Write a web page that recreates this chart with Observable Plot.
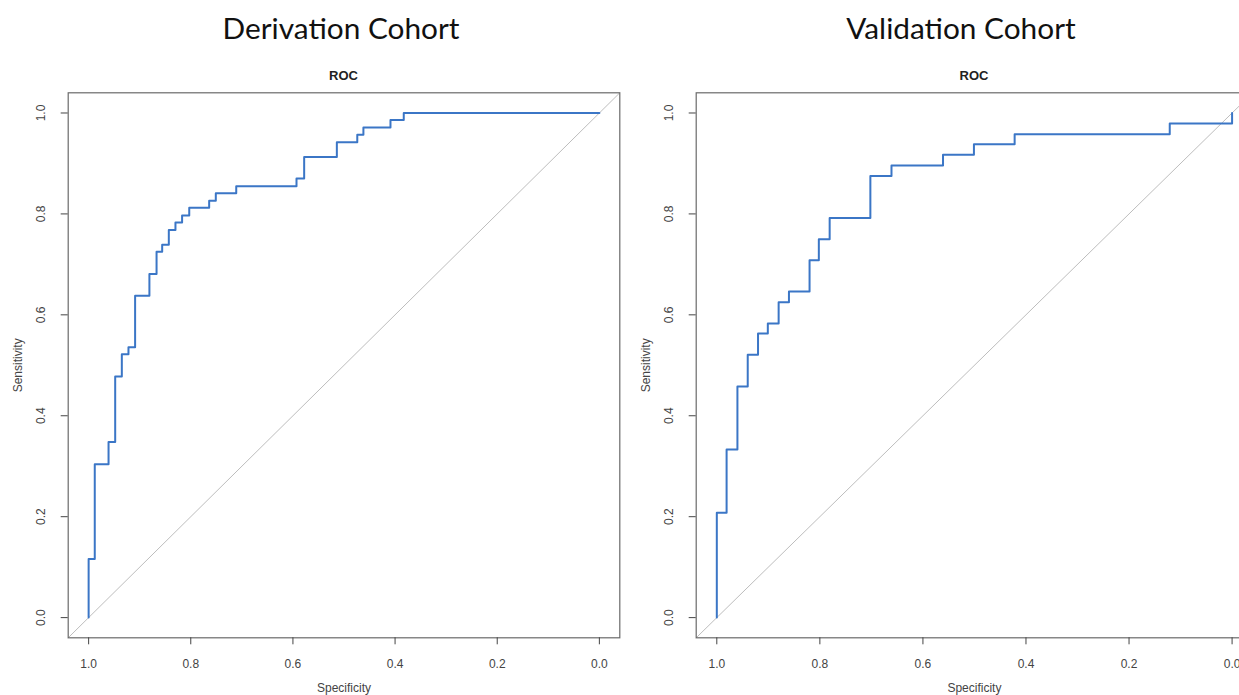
<!DOCTYPE html>
<html>
<head>
<meta charset="utf-8">
<script src="https://cdn.jsdelivr.net/npm/d3@7"></script>
<script src="https://cdn.jsdelivr.net/npm/@observablehq/plot@0.6"></script>
<style>
  html, body { margin: 0; padding: 0; background: #fff; overflow: hidden; }
  #stage { position: relative; width: 1239px; height: 695px; overflow: hidden; background: #fff; }
  .cohort { position: absolute; top: 8px; font-family: Lato, "Open Sans", sans-serif; font-size: 29.8px; color: #111; text-align: center; width: 500px; line-height: 40px; }
  .roc { position: absolute; top: 67px; font-family: "Liberation Sans", Arial, sans-serif; font-weight: bold; font-size: 13px; color: #222; text-align: center; width: 200px; line-height: 18px; z-index: 2; }
  .panel { position: absolute; top: 60px; }
</style>
</head>
<body>
<div id="stage"></div>
<script>
// ---- data ----
const cohortTitles = ["Derivation Cohort", "Validation Cohort"];
const panelTitle = "ROC";
const xLabel = "Specificity";
const yLabel = "Sensitivity";
const tickValues = [1.0, 0.8, 0.6, 0.4, 0.2, 0.0];

// Derivation cohort ROC corner points (specificity, sensitivity)
const derivSpec = [1.0, 0.988, 0.961, 0.948, 0.935, 0.922, 0.909, 0.881, 0.867, 0.856, 0.843, 0.830, 0.817, 0.803, 0.764, 0.751, 0.711, 0.593, 0.578, 0.514, 0.474, 0.462, 0.409, 0.383, 0.0];
const derivSens = [0.0, 0.116, 0.304, 0.348, 0.478, 0.522, 0.536, 0.638, 0.681, 0.725, 0.739, 0.768, 0.783, 0.797, 0.812, 0.826, 0.841, 0.855, 0.870, 0.913, 0.942, 0.957, 0.971, 0.986, 1.0];

// Validation cohort ROC corner points (specificity, sensitivity)
const validSpec = [1.0, 0.981, 0.960, 0.940, 0.920, 0.901, 0.880, 0.860, 0.820, 0.802, 0.781, 0.702, 0.661, 0.561, 0.501, 0.422, 0.121, 0.0, 0.0];
const validSens = [0.0, 0.208, 0.333, 0.458, 0.521, 0.563, 0.583, 0.625, 0.646, 0.708, 0.750, 0.792, 0.875, 0.896, 0.917, 0.938, 0.958, 0.979, 1.0];

const xDomain = [1.04, -0.04];
const yDomain = [-0.04, 1.04];

const stage = document.getElementById("stage");

function makePanel(spec, sens, cfg) {
  const curve = spec.map((s, i) => ({spec: s, sens: sens[i]}));
  const diag = xDomain.map(s => ({spec: s, sens: 1 - s}));
  const chart = Plot.plot({
    width: cfg.width,
    height: 635,
    marginLeft: cfg.marginLeft,
    marginRight: cfg.marginRight,
    marginTop: 32.3,
    marginBottom: 57.7,
    style: {fontFamily: "'Liberation Sans', Arial, sans-serif", fontSize: "12px", color: "#333", background: "transparent", overflow: "visible"},
    x: {domain: xDomain},
    y: {domain: yDomain},
    marks: [
      Plot.line(diag, {x: "spec", y: "sens", stroke: "#bdbdbd", strokeWidth: 1}),
      Plot.line(curve, {x: "spec", y: "sens", curve: "step-before", stroke: "#3b76c6", strokeWidth: 2}),
      Plot.frame({stroke: "#6a6a6a", strokeWidth: 1.2}),
      Plot.axisX({ticks: tickValues, tickFormat: ".1f", tickSize: 7, tickPadding: 15, stroke: "#444", fill: "#444",
        label: xLabel, labelAnchor: "center", labelOffset: 54, labelArrow: "none"}),
      Plot.axisY({ticks: tickValues, tickFormat: ".1f", tickSize: 7, tickPadding: 16, tickRotate: -90, stroke: "#444", fill: "#444",
        label: yLabel, labelAnchor: "center", labelOffset: 55, labelArrow: "none"})
    ]
  });
  chart.classList.add("panel");
  chart.style.left = cfg.left + "px";
  chart.style.position = "absolute";
  chart.style.top = "60px";
  stage.appendChild(chart);

  const t = document.createElement("div");
  t.className = "cohort";
  t.textContent = cfg.title;
  t.style.left = (cfg.titleCenter - 250) + "px";
  stage.appendChild(t);

  const r = document.createElement("div");
  r.className = "roc";
  r.textContent = panelTitle;
  r.style.left = (cfg.rocCenter - 100) + "px";
  stage.appendChild(r);
}

makePanel(derivSpec, derivSens, {left: 0, width: 620, marginLeft: 67.7, marginRight: 0.7, title: cohortTitles[0], titleCenter: 341, rocCenter: 343.5});
makePanel(validSpec, validSens, {left: 620, width: 633, marginLeft: 75.7, marginRight: 0.8, title: cohortTitles[1], titleCenter: 961, rocCenter: 974});
</script>
</body>
</html>
